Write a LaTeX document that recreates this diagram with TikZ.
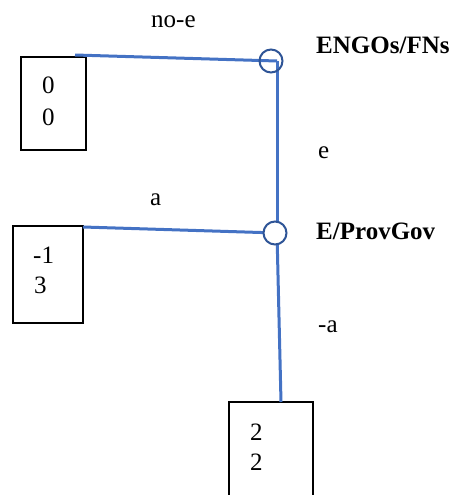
\documentclass[tikz,border=0pt]{standalone}
\usepackage{fontspec}
\setmainfont{Liberation Serif}
\definecolor{edgeblue}{RGB}{68,114,196}
\definecolor{ringblue}{RGB}{47,85,151}
\begin{document}
\begin{tikzpicture}[x=1pt,y=-1pt,
  payoffbox/.style={draw=black,line width=1.8pt,rectangle,inner sep=0pt},
  decision/.style={circle,draw=ringblue,line width=2pt,inner sep=0pt,minimum size=23pt},
  branch/.style={draw=edgeblue,line width=3pt},
  txt/.style={anchor=base west,inner sep=0pt,font=\fontsize{25}{29}\selectfont},
  btxt/.style={txt,font=\fontsize{25}{29}\selectfont\bfseries}]
\useasboundingbox (0,0) rectangle (453,495);
% payoff boxes
\node[payoffbox,minimum width=65pt,minimum height=93pt] (box1) at (53.5,103.5) {};
\node[payoffbox,minimum width=70pt,minimum height=97pt] (box2) at (48,274.5) {};
\node[payoffbox,minimum width=84pt,minimum height=98pt] (box3) at (271,451) {};
% branch end points on the boxes
\coordinate (e1) at (75,55);
\coordinate (e2) at (83,227);
\coordinate (e3) at (281,402);
% decision nodes
\coordinate (c1) at (277,61);
\coordinate (c2) at (277,233);
\draw[branch] (e1) -- (c1);
\draw[branch] (c1) -- (c2);
\draw[branch] (e2) -- (c2);
\draw[branch] (c2) -- (e3);
\node[decision] (n1) at (271,61) {};
\node[decision,fill=white] (n2) at (275,233) {};
% payoffs
\node[txt] (p1a) at (42,93) {0};
\node[txt] (p1b) at (42,125) {0};
\node[txt] (p2a) at (33,263) {-1};
\node[txt] (p2b) at (34,293) {3};
\node[txt] (p3a) at (250,440) {2};
\node[txt] (p3b) at (250,470) {2};
% labels
\node[txt] (lnoe) at (151,28) {no-e};
\node[btxt] (lengo) at (316,53) {ENGOs/FNs};
\node[txt] (le) at (318,158) {e};
\node[txt] (la) at (150,205) {a};
\node[btxt] (lprov) at (316,239) {E/ProvGov};
\node[txt] (lna) at (318,332) {-a};
\end{tikzpicture}
\end{document}
